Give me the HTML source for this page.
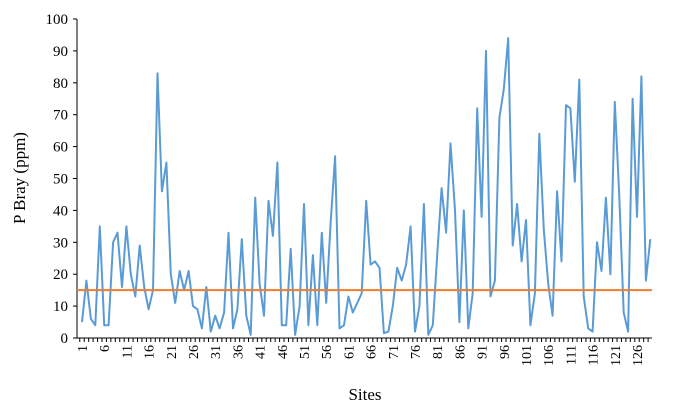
<!DOCTYPE html>
<html><head><meta charset="utf-8"><style>
body{margin:0;background:#fff;}
svg text{font-family:"Liberation Serif",serif;fill:#000;}
</style></head><body>
<svg id="chart" width="687" height="410" xmlns="http://www.w3.org/2000/svg">
<g id="axes"></g>
<text transform="translate(25,178) rotate(-90)" text-anchor="middle" font-size="17">P Bray  (ppm)</text>
<text x="365" y="400" text-anchor="middle" font-size="17">Sites</text>
</svg>
<script>
const values=[5,18,6,4,35,4,4,30,33,16,35,20,13,29,16,9,15,83,46,55,20,11,21,15,21,10,9,3,16,2,7,3,8,33,3,9,31,7,1,44,17,7,43,32,55,4,4,28,1,10,42,4,26,4,33,11,36,57,3,4,13,8,11,14,43,23,24,22,1.5,2,10,22,18,23,35,2,10,42,1,4,26,47,33,61,40,5,40,3,14,72,38,90,13,18,69,78,94,29,42,24,37,4,14,64,34,17,7,46,24,73,72,49,81,13,3,2,30,21,44,20,74,45,8,2,75,38,82,18,31];
const yTicks=[0,10,20,30,40,50,60,70,80,90,100];
const threshold=[15];
const NS="http://www.w3.org/2000/svg";
const svg=document.getElementById('chart');
const g=document.getElementById('axes');
const x0=77,x1=652,yTop=19,yBot=338,xFirst=82,step=4.44;
function X(i){return xFirst+i*step;}
function Y(v){return yBot-(v/100)*(yBot-yTop);}
function mk(t,a){const e=document.createElementNS(NS,t);for(const k in a)e.setAttribute(k,a[k]);return e;}
// axes
let ax=mk('line',{x1:x0,y1:yTop,x2:x0,y2:yBot,stroke:'#000','stroke-width':1});


g.appendChild(ax);
let bx=mk('line',{x1:x0,y1:yBot,x2:x1,y2:yBot,stroke:'#000','stroke-width':1});


g.appendChild(bx);
yTicks.forEach(v=>{
  const tk=mk('line',{x1:x0-4,y1:Y(v),x2:x0,y2:Y(v),stroke:'#000'});
  
  
  g.appendChild(tk);
  const t=mk('text',{x:x0-9,y:Y(v)+5,'text-anchor':'end','font-size':'15'});
  t.textContent=v;
  
  
  g.appendChild(t);
});
values.forEach((v,i)=>{
  const xx=X(i)-step/2;
  const tk=mk('line',{x1:xx,y1:yBot,x2:xx,y2:yBot+4,stroke:'#000'});
  
  
  g.appendChild(tk);
  if(i%5===0){
    const t=mk('text',{transform:`translate(${X(i)+5},${yBot+7}) rotate(-90)`,'text-anchor':'end','font-size':'14'});
    t.textContent=i+1;
    
    
    g.appendChild(t);
  }
});
// series
const pts=values.map((v,i)=>X(i).toFixed(1)+','+Y(v).toFixed(1)).join(' ');
const line=mk('polyline',{points:pts,fill:'none',stroke:'#5b9bd5','stroke-width':2,'stroke-linejoin':'round'});


svg.appendChild(line);
const th=mk('line',{x1:x0,y1:Y(threshold[0]),x2:x1,y2:Y(threshold[0]),stroke:'#ed7d31','stroke-width':2});


svg.appendChild(th);
</script>
</body></html>
